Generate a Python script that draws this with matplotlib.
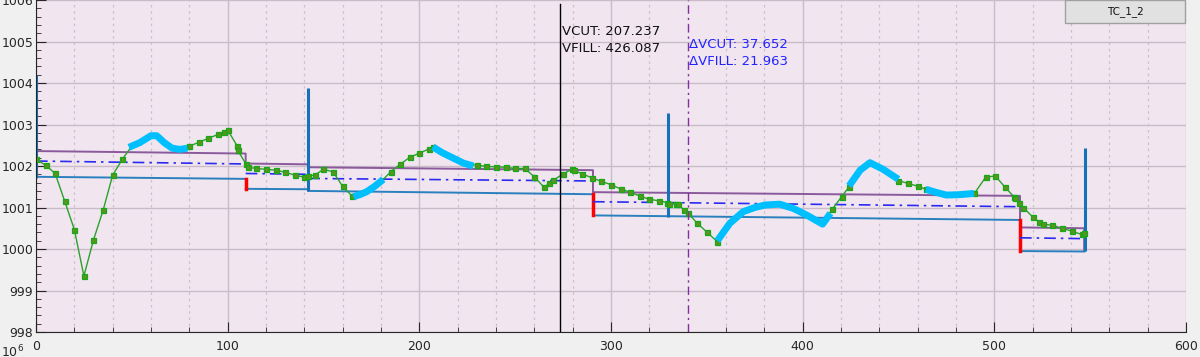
import numpy as np
import matplotlib
matplotlib.use("Agg")
import matplotlib.pyplot as plt
from matplotlib.patches import Rectangle

# measured signal (green, squares)
sig_x = [0, 5, 10, 15, 20, 25, 30, 35, 40, 45,
         50, 55, 60, 65, 70, 75,
         80, 85, 90, 95, 98, 100, 105, 105.2, 109.4, 110.5,
         115, 120, 125, 130, 135, 140, 142, 145.4, 150, 155, 160, 165,
         170, 175, 180,
         185, 190, 195, 200, 205, 207,
         210, 215, 220, 225,
         230, 235, 240, 245, 250, 255, 260, 265, 267.8, 270, 275, 279.6, 280.5,
         285, 290.3, 295, 300, 305.4, 310, 315.3, 320, 325, 329.4, 330.3,
         333.9, 335.1, 338.2, 340.3, 345, 350.2, 355.4,
         360, 365, 370, 375, 380, 381.5, 385, 390, 395, 400, 405, 410,
         415.5, 420.3, 424.3,
         430, 435, 440, 445,
         450, 455, 460.3, 464.2,
         470, 475, 480, 485,
         489.6, 495.5, 500.5, 505.4, 510.4, 511, 513, 515.1, 520.3, 523.3,
         525.6, 530.3, 535.5, 540.4, 545.6, 547]
sig_y = [1002.16, 1002.02, 1001.82, 1001.15, 1000.47, 999.35, 1000.22, 1000.93, 1001.78, 1002.16,
         1002.48, 1002.58, 1002.72, 1002.65, 1002.45, 1002.40,
         1002.48, 1002.57, 1002.67, 1002.76, 1002.82, 1002.87, 1002.48, 1002.38, 1002.06, 1001.97,
         1001.94, 1001.92, 1001.90, 1001.85, 1001.78, 1001.73, 1001.76, 1001.78, 1001.92, 1001.86, 1001.51, 1001.27,
         1001.33, 1001.45, 1001.62,
         1001.86, 1002.04, 1002.21, 1002.31, 1002.41, 1002.46,
         1002.38, 1002.25, 1002.13, 1002.04,
         1002.02, 1001.99, 1001.98, 1001.97, 1001.94, 1001.94, 1001.74, 1001.49, 1001.58, 1001.66, 1001.81, 1001.92, 1001.90,
         1001.81, 1001.71, 1001.63, 1001.55, 1001.44, 1001.37, 1001.27, 1001.20, 1001.16, 1001.12, 1001.09,
         1001.08, 1001.08, 1000.93, 1000.86, 1000.62, 1000.40, 1000.18,
         1000.52, 1000.76, 1000.92, 1001.01, 1001.06, 1001.07, 1001.08, 1001.08, 1000.98, 1000.85, 1000.72, 1000.60,
         1000.96, 1001.26, 1001.50,
         1001.90, 1002.08, 1001.97, 1001.82,
         1001.65, 1001.58, 1001.51, 1001.44,
         1001.35, 1001.30, 1001.31, 1001.33,
         1001.34, 1001.73, 1001.76, 1001.50, 1001.25, 1001.22, 1001.11, 1001.00, 1000.76, 1000.65,
         1000.60, 1000.57, 1000.50, 1000.43, 1000.35, 1000.39]

# highlighted stretches (cyan)
hl_x = [[48.5, 54, 60, 63, 67, 71, 75, 79],
        [165.6, 169, 172.5, 177, 181.2],
        [207, 212, 217.7, 223, 228.2],
        [355.5, 362, 369, 375, 380.4, 388, 395, 402, 410.4, 414.5],
        [424.2, 430, 435.1, 442, 449.9],
        [464.2, 470, 475, 482, 489.4]]
hl_y = [[1002.45, 1002.56, 1002.73, 1002.73, 1002.56, 1002.43, 1002.40, 1002.43],
        [1001.26, 1001.31, 1001.38, 1001.52, 1001.68],
        [1002.46, 1002.32, 1002.19, 1002.07, 1002.00],
        [1000.20, 1000.62, 1000.90, 1001.00, 1001.06, 1001.08, 1000.98, 1000.82, 1000.60, 1000.86],
        [1001.52, 1001.90, 1002.08, 1001.92, 1001.68],
        [1001.44, 1001.36, 1001.30, 1001.31, 1001.34]]

# stepped limits: block edges and start/end value per block
blk_x0 = [0, 109.4, 142.1, 290.6, 513.4]
blk_x1 = [109.4, 142.1, 290.6, 513.4, 547.0]
upper_y0 = [1002.36, 1002.06, 1001.97, 1001.37, 1000.52]
upper_y1 = [1002.30, 1002.04, 1001.90, 1001.28, 1000.50]
lower_y0 = [1001.74, 1001.45, 1001.40, 1000.81, 999.95]
lower_y1 = [1001.69, 1001.44, 1001.32, 1000.70, 999.94]
mid_x0 = [0, 109.4, 142.1, 290.6, 513.4]
mid_x1 = [108.0, 142.1, 289.0, 511.6, 546.4]
mid_y0 = [1002.12, 1001.82, 1001.70, 1001.14, 1000.27]
mid_y1 = [1002.05, 1001.80, 1001.64, 1001.02, 1000.25]

# spikes
spike_x = [0, 142.1, 329.5, 547.5]
spike_lo = [1001.71, 1001.40, 1000.78, 999.94]
spike_hi = [1004.19, 1003.88, 1003.28, 1002.43]

cursor_x = 273.6
delta_x = 340.3

fig = plt.figure(figsize=(12, 3.57), dpi=100, facecolor="#f0f0f0")
ax = fig.add_axes([0.03, 0.07, 0.95833, 0.93])
ax.set_facecolor("#f1e6f0")

ax.set_xlim(0, 600)
ax.set_ylim(998, 1006)
ax.set_xticks(np.arange(0, 601, 100))
ax.set_xticks(np.arange(0, 601, 20), minor=True)
ax.set_yticks(np.arange(998, 1006.1, 1))
ax.set_yticks(np.arange(998, 1006.01, 0.2), minor=True)
ax.grid(True, which="major", color="#c9bcc8", lw=1, ls="-")
ax.grid(True, which="minor", axis="x", color="#cbbfcb", lw=0.9, ls=(0, (2, 3)))
ax.set_axisbelow(True)
for s in ["top", "right"]:
    ax.spines[s].set_visible(False)
for s in ["left", "bottom"]:
    ax.spines[s].set_color("#262626")
ax.tick_params(which="both", direction="in", colors="#262626", labelsize=9)
ax.tick_params(which="major", length=7)
ax.tick_params(which="minor", length=3.5)
ax.tick_params(axis="x", pad=6)
ax.tick_params(axis="y", pad=2)

# upper limit (purple) as a connected staircase
ux, uy = [], []
for a, b, y0, y1 in zip(blk_x0, blk_x1, upper_y0, upper_y1):
    ux += [a, b]
    uy += [y0, y1]
ax.plot(ux, uy, color="#8a5a9c", lw=1.4)
ax.plot([blk_x1[-1], blk_x1[-1]], [upper_y1[-1], lower_y1[-1]], color="#9a6aaa", lw=1.4)

# lower limit (blue) with red drops
for a, b, y0, y1 in zip(blk_x0, blk_x1, lower_y0, lower_y1):
    ax.plot([a, b], [y0, y1], color="#2a80bf", lw=1.4)
for i in [0, 2, 3]:
    ax.plot([blk_x1[i], blk_x1[i]], [lower_y1[i], lower_y0[i + 1]], color="#ff0000", lw=2.5)

# middle (dash-dot)
for a, b, y0, y1 in zip(mid_x0, mid_x1, mid_y0, mid_y1):
    ax.plot([a, b], [y0, y1], color="#2a2af0", lw=1.2, ls=(0, (7, 3, 1.5, 3)))

for x, lo, hi in zip(spike_x, spike_lo, spike_hi):
    ax.plot([x, x], [lo, hi], color="#1672b8", lw=2.2, solid_capstyle="butt")

# no markers on samples that sit under a highlighted stretch
marked = [i for i, x in enumerate(sig_x)
          if not any(h[0] + 0.5 < x < h[-1] - 0.5 for h in hl_x)]
ax.plot(sig_x, sig_y, color="#2ca02c", lw=1, marker="s", markersize=3.6,
        mfc="#58961e", mec="#17a817", mew=0.9, markevery=marked)

for hx, hy in zip(hl_x, hl_y):
    ax.plot(hx, hy, color="#00bfff", lw=5, solid_capstyle="butt", solid_joinstyle="round")

ax.plot([cursor_x, cursor_x], [998, 1005.9], color="black", lw=1)
ax.axvline(delta_x, color="#8a2ba8", lw=1, ls=(0, (6, 3, 1.5, 3)))

ax.text(cursor_x + 0.8, 1005.16, "VCUT: 207.237", fontsize=9.5, va="baseline", color="#111111")
ax.text(cursor_x + 0.8, 1004.75, "VFILL: 426.087", fontsize=9.5, va="baseline", color="#111111")
ax.text(delta_x + 0.4, 1004.85, "\u0394VCUT: 37.652", fontsize=9.5, va="baseline", color="#2323ff")
ax.text(delta_x + 0.4, 1004.43, "\u0394VFILL: 21.963", fontsize=9.5, va="baseline", color="#2323ff")

# legend-like box in the top right
fig.patches.append(Rectangle((1065 / 1200, 1 - 23 / 357), 120 / 1200, 23 / 357,
                             transform=fig.transFigure, facecolor="#e1e1e1",
                             edgecolor="#a0a0a0", lw=1))
fig.text(1125 / 1200, 1 - 12 / 357, "TC_1_2", fontsize=7.5, ha="center", va="center", color="#111111")

fig.text(0.001, 13 / 357, "10$^6$", fontsize=9, ha="left", va="top", color="#262626")

fig.savefig("out.png", dpi=100, facecolor=fig.get_facecolor())
